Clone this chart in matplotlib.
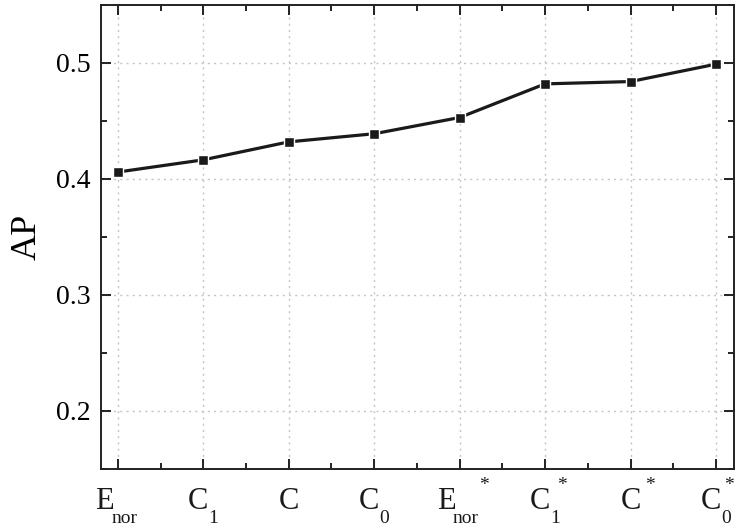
import matplotlib
matplotlib.use("Agg")
import matplotlib.pyplot as plt
from matplotlib.ticker import MultipleLocator

plt.rcParams["font.family"] = ["Liberation Serif", "DejaVu Serif"]

# Feature variants on the x axis (base letter, subscript, superscript)
label_base = ["E", "C", "C", "C", "E", "C", "C", "C"]
label_sub = ["nor", "1", "", "0", "nor", "1", "", "0"]
label_sup = ["", "", "", "", "*", "*", "*", "*"]
# AP score of each variant
ap_values = [0.406, 0.4165, 0.432, 0.439, 0.453, 0.482, 0.484, 0.499]
y_ticks = [0.2, 0.3, 0.4, 0.5]

fig = plt.figure(figsize=(7.35, 5.26), dpi=100)
ax = fig.add_axes([0.137, 0.1084, 0.8616, 0.8821])

x = list(range(len(label_base)))
ax.plot(x, ap_values, color="#1a1a1a", linewidth=2.3, marker="s",
        markersize=7, markerfacecolor="#1a1a1a", markeredgecolor="white",
        markeredgewidth=1.0, zorder=3)

ax.set_xlim(-0.2, 7.21)
ax.set_ylim(0.15, 0.55)
ax.set_xticks(x)
ax.set_xticklabels([])
ax.set_yticks(y_ticks)
ax.set_yticklabels([f"{v:.1f}" for v in y_ticks])
ax.xaxis.set_minor_locator(MultipleLocator(0.5))
ax.yaxis.set_minor_locator(MultipleLocator(0.05))

ax.grid(True, which="major", color="#c4c4c4", linestyle=(0, (1.5, 3)),
        linewidth=1.0, zorder=0)

for side in ax.spines.values():
    side.set_linewidth(1.4)
    side.set_color("#222222")

ax.tick_params(which="both", direction="in", top=True, right=True,
               color="#222222", width=1.4)
ax.tick_params(which="major", length=7)
ax.tick_params(which="minor", length=4)
ax.tick_params(axis="y", which="major", labelsize=20, pad=7)

# Category labels built from separate pieces so subscripts sit low
# and the asterisk hangs above, Origin-style.
renderer = fig.canvas.get_renderer()
fig_width_px = fig.bbox.width
BASE_SIZE, SCRIPT_SIZE = 22, 14
BASE_DY, SUB_DY, SUP_DY = -40, -54, -21


def piece(xpos, dx, dy, text, size):
    return ax.annotate(text, xy=(xpos, 0), xycoords=("data", "axes fraction"),
                       xytext=(dx, dy), textcoords="offset pixels",
                       ha="left", va="baseline", fontsize=size,
                       color="#1a1a1a", annotation_clip=False)


for xi, base, sub, sup in zip(x, label_base, label_sub, label_sup):
    tb = piece(xi, 0, BASE_DY, base, BASE_SIZE)
    wb = tb.get_window_extent(renderer).width
    ws = 0.0
    ts = None
    if sub:
        ts = piece(xi, 0, SUB_DY, sub, SCRIPT_SIZE)
        ws = ts.get_window_extent(renderer).width
    start = -(wb + ws) / 2.0
    tb.xyann = (start, BASE_DY)
    if ts is not None:
        ts.xyann = (start + wb - (3 if base == "E" else 0), SUB_DY)
    if sup:
        gap = -3 if sub else 4
        dx = start + wb + ws + gap
        tp = piece(xi, dx, SUP_DY, sup, SCRIPT_SIZE)
        # keep the asterisk inside the figure at the right edge
        overflow = tp.get_window_extent(renderer).x1 - (fig_width_px - 1)
        if overflow > 0:
            tp.xyann = (dx - overflow, SUP_DY)

fig.text(27.5 / 735, 1 - 236.7 / 526, "AP", rotation=90, ha="center",
         va="center", fontsize=26)

fig.savefig("out.png", dpi=100)
